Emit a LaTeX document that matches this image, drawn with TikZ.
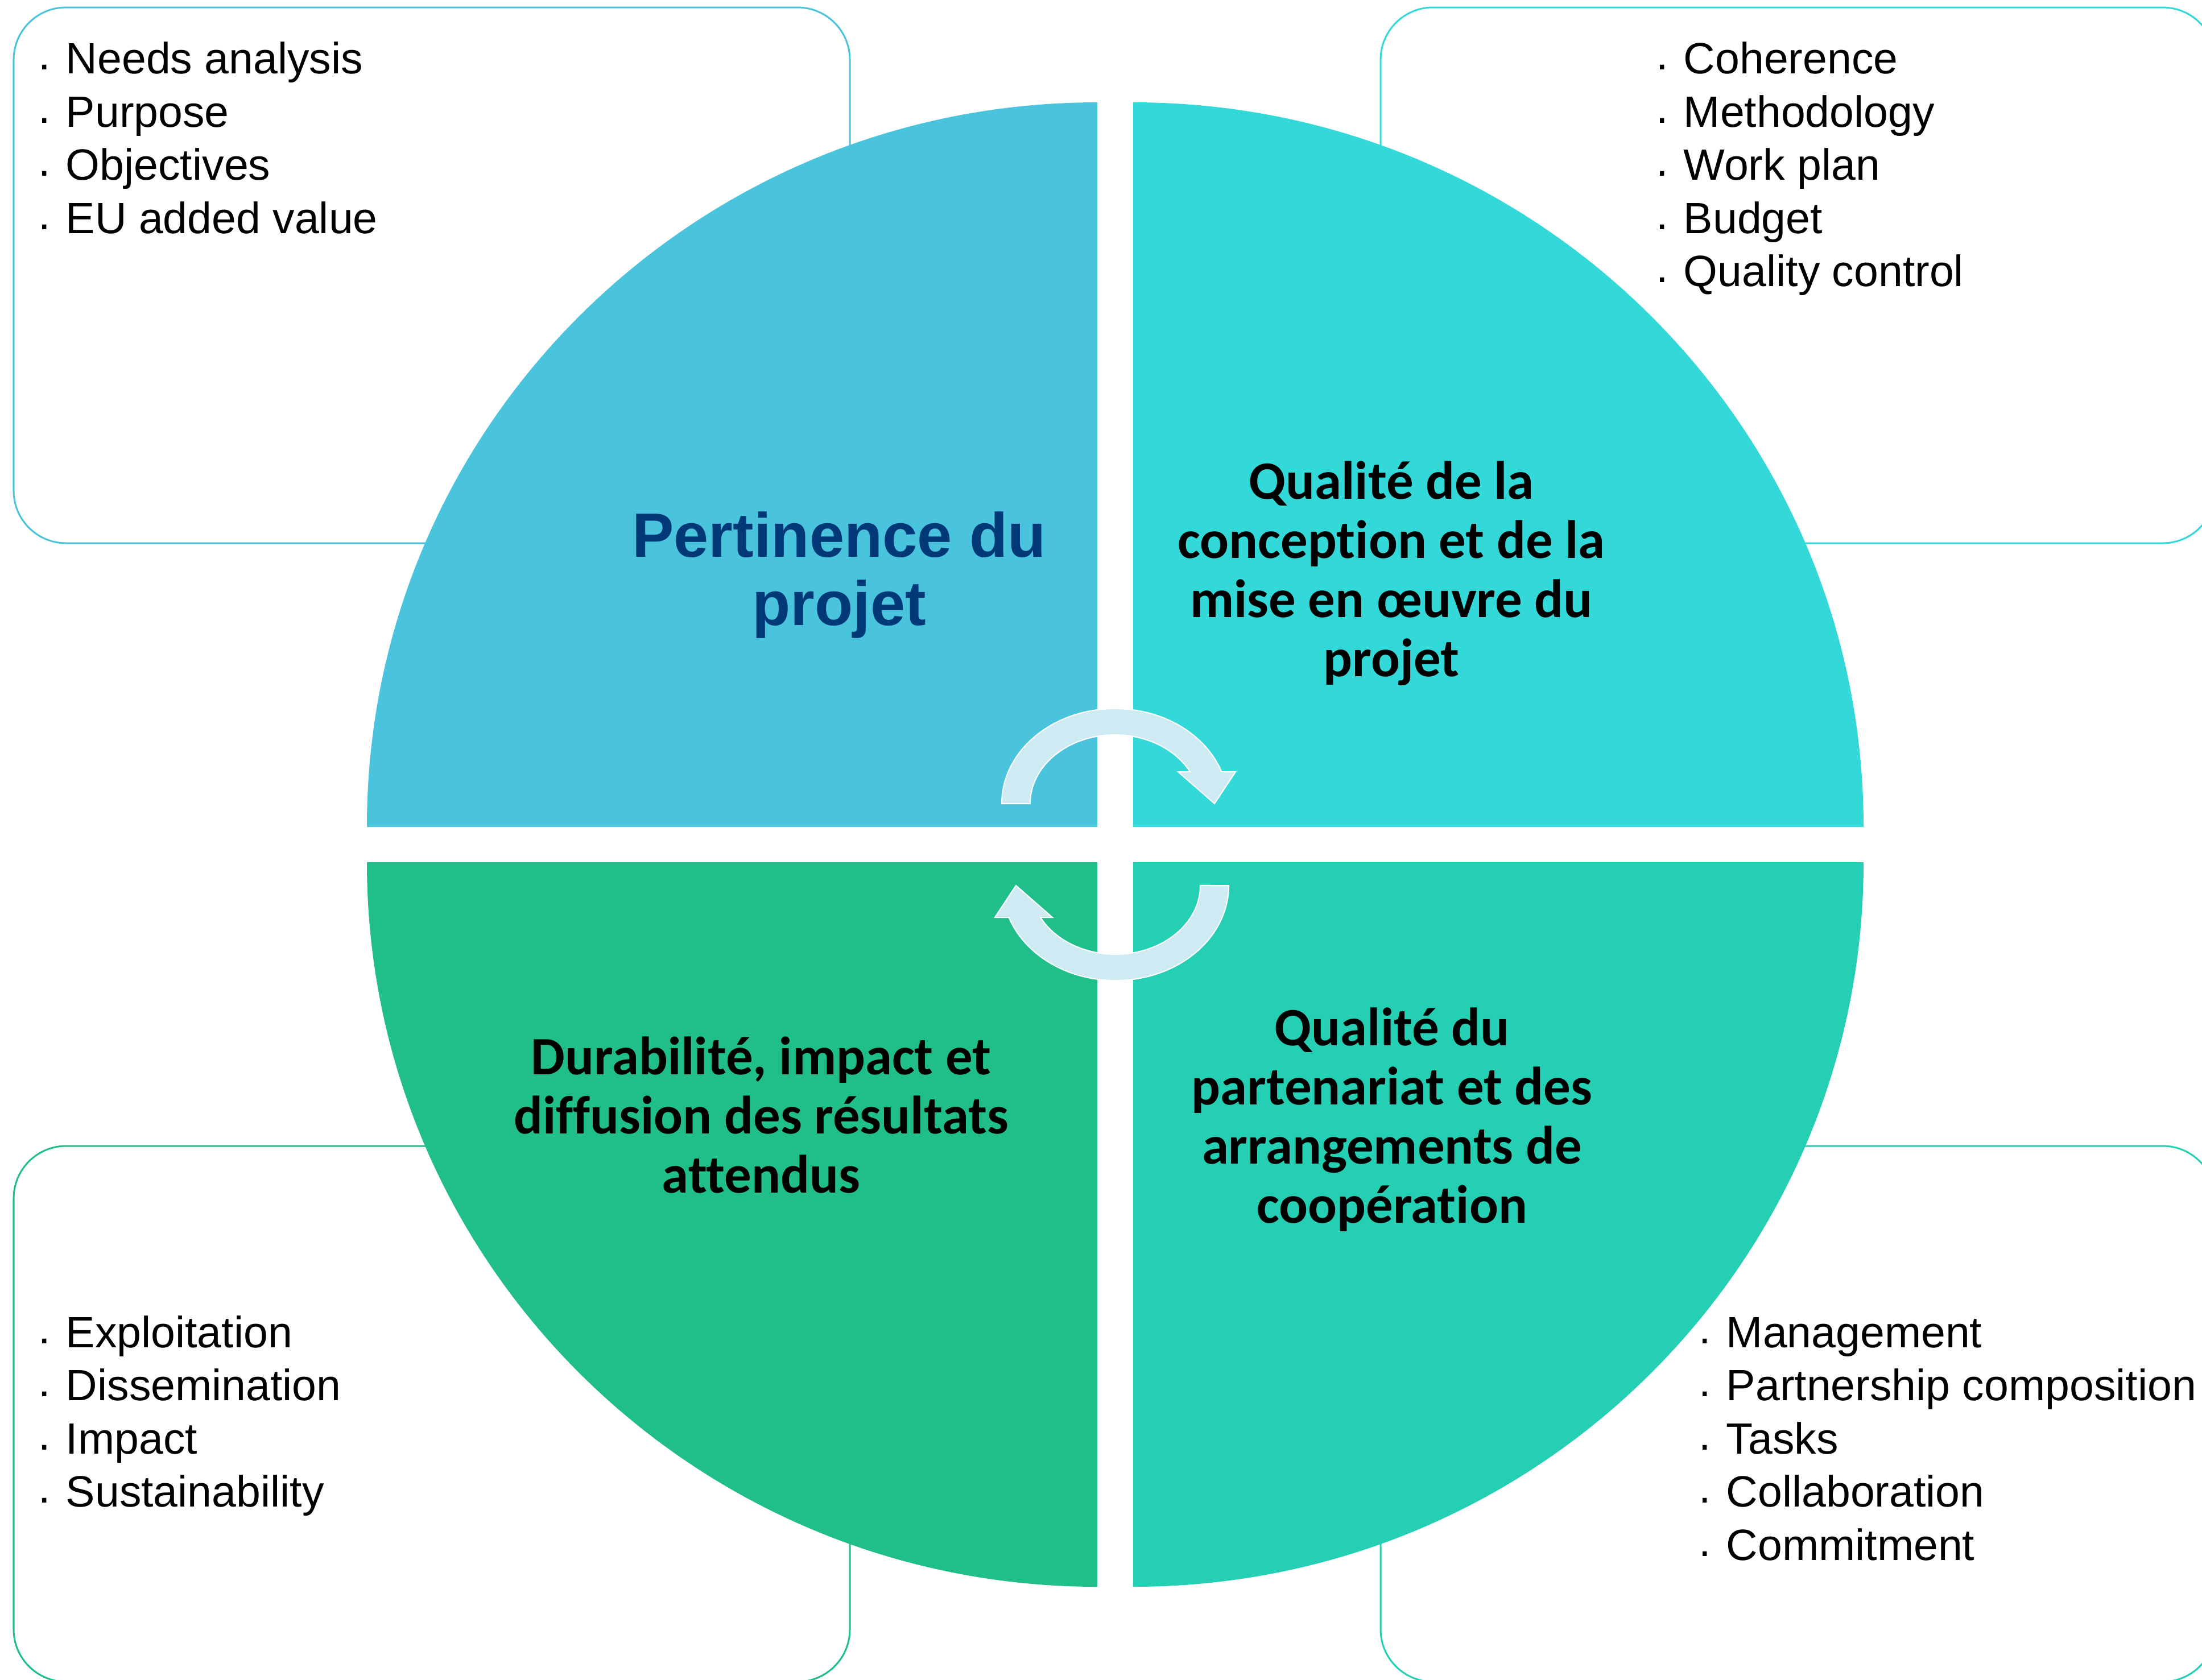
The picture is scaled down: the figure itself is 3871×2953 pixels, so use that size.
\documentclass[tikz,border=0pt]{standalone}
\usepackage{fontspec}
\setmainfont{Liberation Sans}
\newfontfamily\calib[Ligatures=NoCommon]{Carlito}

\definecolor{qTL}{RGB}{74,195,220}
\definecolor{qTR}{RGB}{51,217,217}
\definecolor{qBL}{RGB}{32,190,139}
\definecolor{qBR}{RGB}{37,207,180}
\definecolor{arrowfill}{RGB}{206,234,242}
\definecolor{titleblue}{RGB}{0,56,120}

% centred block of lines, baseline = first line
\newcommand\centerstack[1]{\vtop{\lineskiplimit=-\maxdimen\halign{\hfil##\hfil\cr#1\crcr}}}
% left-aligned block of lines, baseline = first line
\newcommand\leftstack[1]{\vtop{\lineskiplimit=-\maxdimen\halign{##\hfil\cr#1\crcr}}}
% small dot bullet
\newcommand\bul{\makebox[0.625em][l]{\raisebox{0.09em}{.}}}

\begin{document}
\begin{tikzpicture}[x=0.01cm, y=-0.01cm,
  infobox/.style={line width=0.03cm, fill=white, rounded corners=0.92cm},
  quadrant/.style={draw=none},
  cyclearrow/.style={fill=arrowfill, draw=white, line width=0.02cm, line join=miter},
  listtext/.style={inner sep=0pt, anchor=base west, font=\fontsize{21.9pt}{26.6pt}\selectfont},
  qualtext/.style={inner sep=0pt, anchor=base, font=\calib\bfseries\fontsize{27pt}{29.6pt}\selectfont},
  titletext/.style={inner sep=0pt, anchor=base, text=titleblue, font=\bfseries\fontsize{31.3pt}{34.4pt}\selectfont}]

\useasboundingbox (0,0) rectangle (3871,2953);
\clip (0,0) rectangle (3871,2953);

% rounded outline boxes in the four corners
\path[infobox, draw=qTL] (24,13) rectangle (1494,955);
\path[infobox, draw=qTR] (2427,13) rectangle (3894,955);
\path[infobox, draw=qBL] (24,2015) rectangle (1494,2957);
\path[infobox, draw=qBR] (2427,2015) rectangle (3894,2957);

% four quarter segments of the disc
\fill[quadrant, qTL] (1929,1454) -- (645,1454) arc[start angle=180, end angle=270, x radius=1284, y radius=1274] -- cycle;
\fill[quadrant, qTR] (1992,1454) -- (1992,180) arc[start angle=270, end angle=360, x radius=1284, y radius=1274] -- cycle;
\fill[quadrant, qBR] (1992,1516) -- (3276,1516) arc[start angle=0, end angle=90, x radius=1284, y radius=1274] -- cycle;
\fill[quadrant, qBL] (1929,1516) -- (1929,2790) arc[start angle=90, end angle=180, x radius=1284, y radius=1274] -- cycle;

% circular arrows in the centre
\path[cyclearrow] (1761,1413)
  arc[start angle=180, end angle=340.4, x radius=199, y radius=167]
  -- (2172,1357) -- (2135,1413) -- (2071,1357) -- (2092,1357)
  arc[start angle=332.4, end angle=180, x radius=149, y radius=121] -- cycle;
\path[cyclearrow, rotate around={180:(1960.5,1485)}] (1761,1413)
  arc[start angle=180, end angle=340.4, x radius=199, y radius=167]
  -- (2172,1357) -- (2135,1413) -- (2071,1357) -- (2092,1357)
  arc[start angle=332.4, end angle=180, x radius=149, y radius=121] -- cycle;

% quadrant titles
\node[titletext] (pertinence) at (1475,979) {\centerstack{Pertinence du\cr projet}};
\node[qualtext] (conception) at (2446,877) {\centerstack{Qualité de la\cr conception et de la\cr mise en œuvre du\cr projet}};
\node[qualtext] (partenariat) at (2447,1838) {\centerstack{Qualité du\cr partenariat et des\cr arrangements de\cr coopération}};
\node[qualtext] (durabilite) at (1338,1889) {\centerstack{Durabilité, impact et\cr diffusion des résultats\cr attendus}};

% criteria lists
\node[listtext] (relevance) at (67,129.5) {\leftstack{\bul Needs analysis\cr \bul Purpose\cr \bul Objectives\cr \bul EU added value}};
\node[listtext] (design) at (2911,129.5) {\leftstack{\bul Coherence\cr \bul Methodology\cr \bul Work plan\cr \bul Budget\cr \bul Quality control}};
\node[listtext] (impact) at (67,2369) {\leftstack{\bul Exploitation\cr \bul Dissemination\cr \bul Impact\cr \bul Sustainability}};
\node[listtext] (partnership) at (2986,2369) {\leftstack{\bul Management\cr \bul Partnership composition\cr \bul Tasks\cr \bul Collaboration\cr \bul Commitment}};

\end{tikzpicture}
\end{document}
